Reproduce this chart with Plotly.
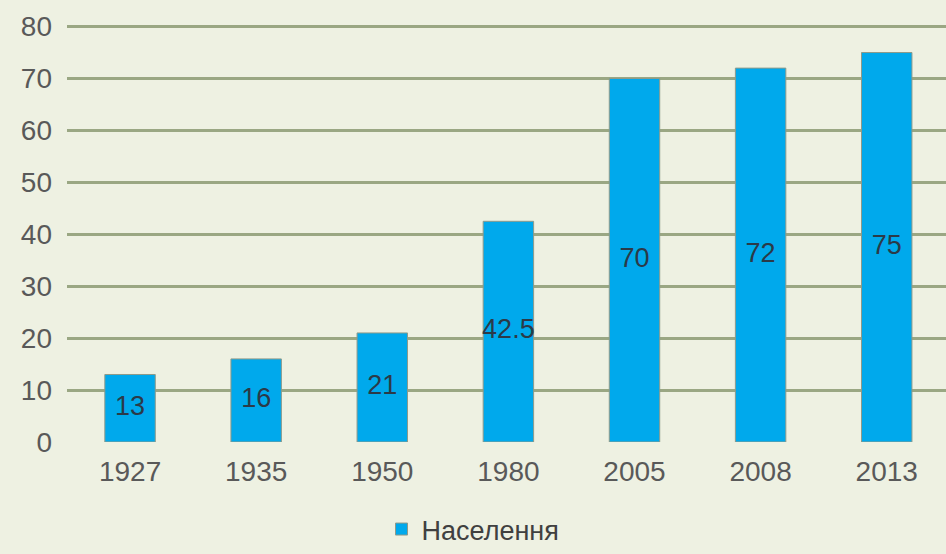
import plotly.graph_objects as go

years = ["1927", "1935", "1950", "1980", "2005", "2008", "2013"]
population = [13, 16, 21, 42.5, 70, 72, 75]
labels = ["13", "16", "21", "42.5", "70", "72", "75"]
y_ticks = [0, 10, 20, 30, 40, 50, 60, 70, 80]
series_name = "Населення"

BG = "#eef1e2"
FONT = "Liberation Sans, Arial, sans-serif"

fig = go.Figure()
fig.add_trace(go.Bar(
    x=years, y=population, name=series_name,
    marker=dict(color="#00a9ec", line=dict(color="#8e9a8a", width=1)),
    width=0.4,
))
fig.add_trace(go.Scatter(
    x=years, y=[v / 2 for v in population], text=labels,
    mode="text", textposition="middle center",
    textfont=dict(size=27, color="#2b3a48", family=FONT),
    showlegend=False, hoverinfo="skip", cliponaxis=False,
))

fig.update_layout(
    width=946, height=554,
    margin=dict(l=67, r=0, t=25, b=112),
    paper_bgcolor=BG, plot_bgcolor=BG,
    font=dict(family=FONT, size=28, color="#595959"),
    showlegend=True,
    legend=dict(orientation="h", xref="container", yref="container",
                x=0.5, xanchor="center", y=-0.035, yanchor="bottom",
                font=dict(size=27, color="#404040"), itemwidth=30,
                bgcolor="rgba(0,0,0,0)"),
    xaxis=dict(range=[-0.5, 6.47], showgrid=False, showline=False,
               ticks="", ticklabelstandoff=10,
               tickfont=dict(size=28, color="#595959")),
    yaxis=dict(range=[0, 80.3], tickvals=y_ticks, showgrid=True,
               gridcolor="#9aa783", gridwidth=3,
               zeroline=True, zerolinecolor=BG, zerolinewidth=3,
               showline=False, ticks="", ticklabelstandoff=14,
               tickfont=dict(size=28, color="#595959")),
)

fig.write_html("out.html", config={"displayModeBar": False},
               post_script="document.body.style.margin='0';document.body.style.background='%s';" % BG)
